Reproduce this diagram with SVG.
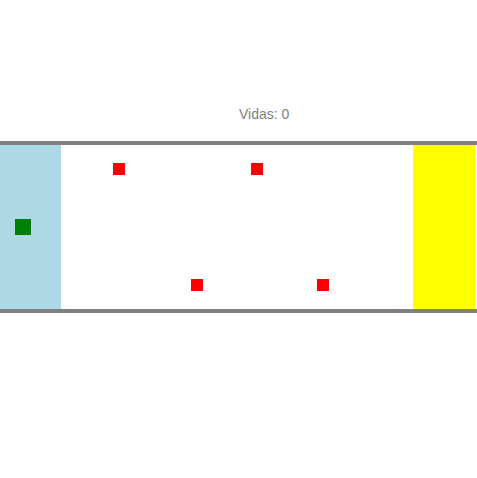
<svg xmlns="http://www.w3.org/2000/svg" width="477" height="478" viewBox="0 0 477 478">
<style>
.wall{fill:#808080}
.enemy{fill:#ff0000}
.lbl{font-family:"Liberation Sans",Arial,sans-serif;font-size:14px;fill:#808080}
</style>
<rect width="477" height="478" fill="#ffffff"/>
<text class="lbl" x="239" y="119">Vidas: 0</text>
<rect id="start" x="0" y="145" width="61" height="164" fill="#add8e6"/>
<rect id="goal" x="413" y="145" width="62" height="164" fill="#ffff00"/>
<rect class="wall" x="0" y="141" width="477" height="4"/>
<rect class="wall" x="0" y="309" width="477" height="4"/>
<rect id="player" x="15" y="219" width="16" height="16" fill="#008000"/>
<rect class="enemy" x="113" y="163" width="12" height="12"/>
<rect class="enemy" x="251" y="163" width="12" height="12"/>
<rect class="enemy" x="191" y="279" width="12" height="12"/>
<rect class="enemy" x="317" y="279" width="12" height="12"/>
</svg>
